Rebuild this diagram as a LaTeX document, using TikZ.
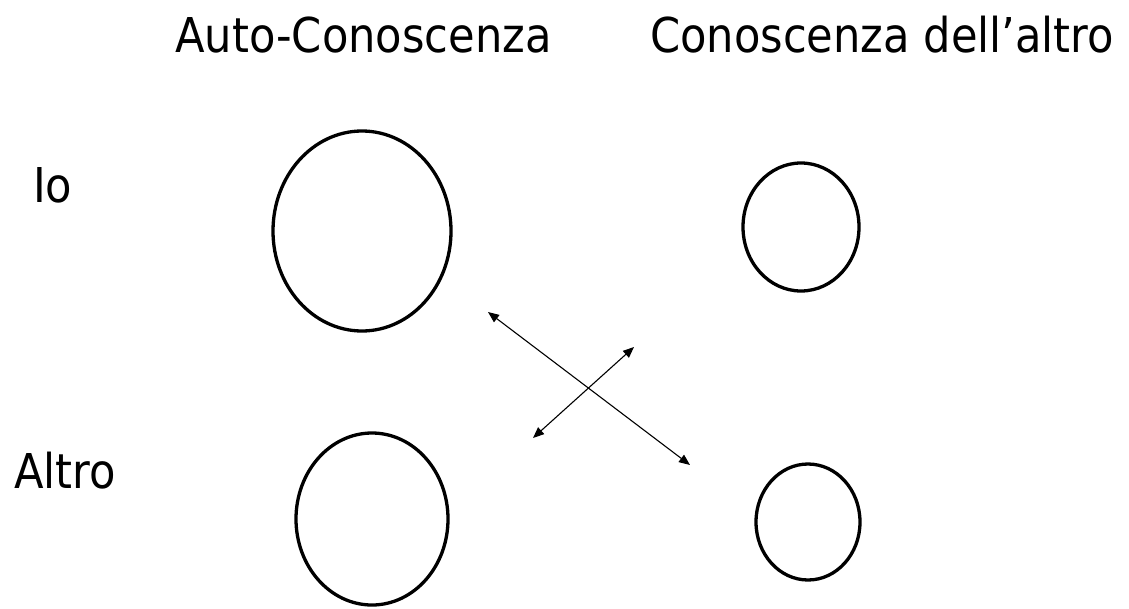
\documentclass[tikz,border=0pt]{standalone}
\usepackage{fontspec}
\newfontfamily\handfont[FakeStretch=0.9]{DejaVu Sans}
\usetikzlibrary{shapes.geometric,arrows.meta}

\tikzset{
  label text/.style={inner sep=0pt, anchor=base west, font=\handfont\fontsize{48}{54}\selectfont},
  oval/.style={ellipse, draw=black, line width=3.3pt, inner sep=0pt},
  link/.style={line width=1.1pt, {Triangle[length=11pt,width=9pt]}-{Triangle[length=11pt,width=9pt]}}
}

\begin{document}
\begin{tikzpicture}[x=1pt, y=-1pt]
  \useasboundingbox (0,0) rectangle (1129,608);

  % column and row headings
  \node[label text] (hself)  at (175,52) {Auto-Conoscenza};
  \node[label text] (hother) at (650,52) {Conoscenza dell’altro};
  \node[label text] (rio)    at (33,202) {Io};
  \node[label text] (raltro) at (14,488) {Altro};

  % the four knowledge areas
  \node[oval, minimum width=178pt, minimum height=200pt] (ioself)  at (362,231) {};
  \node[oval, minimum width=116pt, minimum height=128pt] (ioother) at (801,227) {};
  \node[oval, minimum width=152pt, minimum height=172pt] (alself)  at (372,519) {};
  \node[oval, minimum width=104pt, minimum height=116pt] (alother) at (808,522) {};

  % crossing exchanges
  \coordinate (a1) at (488,312);
  \coordinate (a2) at (690,465);
  \coordinate (b1) at (533,438);
  \coordinate (b2) at (634,347);
  \draw[link] (a1) -- (a2);
  \draw[link] (b1) -- (b2);
\end{tikzpicture}
\end{document}
